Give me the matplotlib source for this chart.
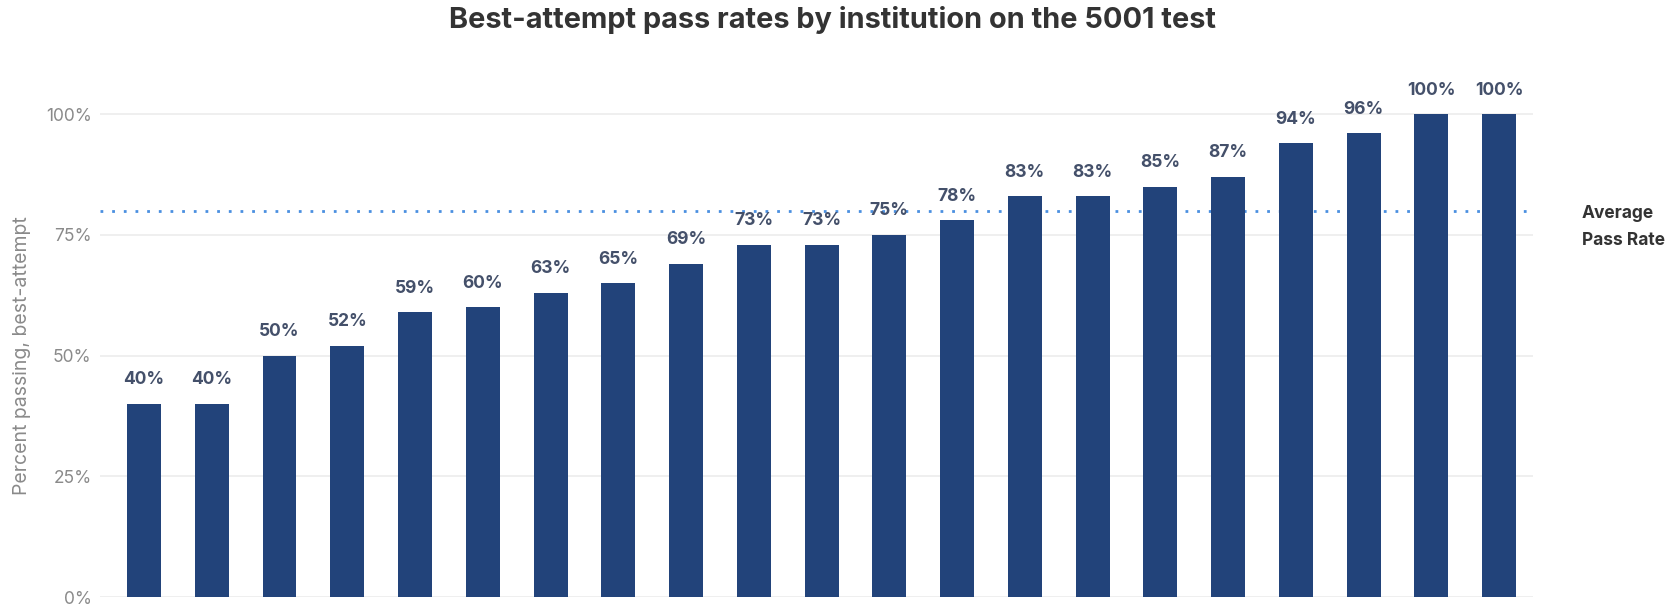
import matplotlib
matplotlib.use("Agg")
import matplotlib.pyplot as plt
import numpy as np

# Pass rates per institution (sorted)
pass_rates = [40, 40, 50, 52, 59, 60, 63, 65, 69, 73, 73, 75, 78, 83, 83, 85, 87, 94, 96, 100, 100]
average_rate = 80
y_ticks = [0, 25, 50, 75, 100]
y_tick_labels = ["0%", "25%", "50%", "75%", "100%"]

bar_color = "#22437a"
label_color = "#44506a"
grey = "#8a8a8a"

plt.rcParams['font.family'] = ['Inter', 'DejaVu Sans']

fig = plt.figure(figsize=(16.75, 6.09), dpi=100)
ax = fig.add_axes([100 / 1675, 1 - 597 / 609, 1433 / 1675, 507 / 609])

x = np.arange(len(pass_rates))
ax.bar(x, pass_rates, width=0.5, color=bar_color, zorder=3)

for xi, v in zip(x, pass_rates):
    ax.text(xi, v + 3.2, f"{v}%", ha="center", va="bottom", fontsize=12.5,
            fontweight="bold", color=label_color, zorder=4)

# average line
ax.axhline(average_rate, color="#4a8fe0", linestyle=(0, (1, 3.2)), linewidth=2, zorder=2)
ax.text(1.034, average_rate - 3.4, "Average\nPass Rate", transform=ax.get_yaxis_transform(),
        ha="left", va="center", fontsize=12.5, fontweight="bold", color="#333333",
        linespacing=1.8)

ax.set_xlim(-0.65, 20.5)
ax.set_ylim(0, 105)
ax.set_yticks(y_ticks)
ax.set_yticklabels(y_tick_labels, fontsize=12.5, color=grey)
ax.set_xticks([])
ax.tick_params(axis="y", length=0, pad=6)
ax.grid(axis="y", color="#ececec", linewidth=1.2, zorder=0)
for s in ax.spines.values():
    s.set_visible(False)

ax.set_ylabel("Percent passing, best-attempt", fontsize=14, color=grey)
ax.yaxis.set_label_coords(-0.048, 50 / 105)

fig.suptitle("Best-attempt pass rates by institution on the 5001 test", x=0.497, y=0.99,
             va="top", fontsize=20.8, fontweight="bold", color="#333333")

fig.savefig("out.png", dpi=100, facecolor="white")
